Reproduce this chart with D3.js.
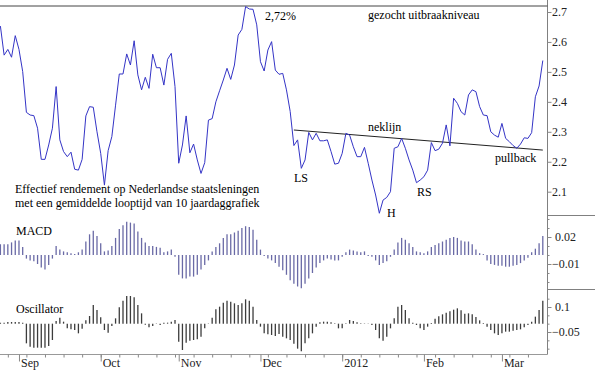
<!DOCTYPE html>
<html lang="nl">
<head>
  <meta charset="UTF-8">
  <title>Effectief rendement Nederlandse staatsleningen 10 jaar</title>
  <script src="https://d3js.org/d3.v7.min.js"></script>
  <style>
    body {
      margin: 0;
      background: #fff;
    }
    svg text {
      font-family: "Liberation Serif", "Times New Roman", serif;
      font-size: 12px;
      fill: #000;
    }
    .axis text {
      fill: #222;
    }
    .axis line {
      stroke: #888;
    }
  </style>
</head>
<body>
  <svg id="chart" width="595" height="372"></svg>

  <script>
    // Data: daily trading days 25 Aug 2011 - 16 Mar 2012
    const firstDay = new Date(2011, 7, 25);
    const lastDay = new Date(2012, 2, 16);

    // 10y yield (%)
    const yieldValues = [
      2.653, 2.556, 2.575, 2.549, 2.621, 2.575, 2.501, 2.365, 2.356, 2.354,
      2.312, 2.208, 2.208, 2.256, 2.312, 2.451, 2.273, 2.234, 2.217, 2.232,
      2.175, 2.172, 2.208, 2.353, 2.384, 2.382, 2.300, 2.228, 2.122, 2.237,
      2.284, 2.389, 2.493, 2.493, 2.560, 2.523, 2.604, 2.490, 2.440, 2.482,
      2.445, 2.559, 2.514, 2.514, 2.456, 2.542, 2.562, 2.451, 2.195, 2.256,
      2.353, 2.230, 2.259, 2.206, 2.161, 2.197, 2.339, 2.344, 2.400, 2.437,
      2.473, 2.512, 2.475, 2.523, 2.623, 2.642, 2.718, 2.710, 2.709, 2.657,
      2.534, 2.503, 2.573, 2.601, 2.506, 2.492, 2.495, 2.440, 2.368, 2.254,
      2.273, 2.178, 2.206, 2.298, 2.273, 2.295, 2.270, 2.270, 2.273, 2.234,
      2.192, 2.195, 2.228, 2.295, 2.289, 2.250, 2.217, 2.217, 2.248, 2.195,
      2.139, 2.089, 2.028, 2.072, 2.081, 2.100, 2.245, 2.250, 2.278, 2.245,
      2.206, 2.172, 2.130, 2.139, 2.150, 2.172, 2.264, 2.237, 2.242, 2.262,
      2.323, 2.253, 2.412, 2.395, 2.367, 2.356, 2.423, 2.440, 2.434, 2.384,
      2.356, 2.354, 2.300, 2.289, 2.282, 2.328, 2.278, 2.267, 2.254, 2.245,
      2.259, 2.280, 2.278, 2.297, 2.417, 2.453, 2.538
    ];

    const macdValues = [
      0.012, 0.012, 0.012, 0.014, 0.016, 0.016, 0.009,
      -0.004, -0.006, -0.007, -0.010, -0.014, -0.016, -0.011, -0.004,
      0.010, 0.006, 0.004, 0.003, 0.002, 0.001, 0.003, 0.006,
      0.015, 0.023, 0.027, 0.021, 0.013, 0.004, 0.005, 0.010,
      0.019, 0.029, 0.033, 0.037, 0.036, 0.035, 0.026, 0.019,
      0.014, 0.010, 0.010, 0.009, 0.008, 0.003, 0.004, 0.006,
      -0.002, -0.022, -0.026, -0.026, -0.024, -0.024, -0.022, -0.016, -0.011, -0.006,
      0.004, 0.009, 0.013, 0.019, 0.023, 0.023, 0.025, 0.027, 0.030, 0.032, 0.031, 0.028, 0.017, 0.006,
      -0.001, -0.004, -0.006, -0.009, -0.013, -0.017, -0.022, -0.028, -0.032, -0.035, -0.037,
      -0.032, -0.026, -0.020, -0.014, -0.009, -0.006, -0.004, -0.005, -0.006, -0.006, -0.002,
      0.003, 0.006, 0.005, 0.004, 0.003, 0.004,
      -0.001, -0.002, -0.006, -0.011, -0.009, -0.007, -0.002,
      0.006, 0.014, 0.019, 0.017, 0.013, 0.009, 0.004, 0.003, 0.002, 0.004,
      0.009, 0.011, 0.013, 0.015, 0.017, 0.019, 0.020, 0.019, 0.016, 0.015,
      0.015, 0.012, 0.006, 0.002, 0.001,
      -0.006, -0.010, -0.011, -0.012, -0.012, -0.013, -0.013, -0.012, -0.011, -0.009, -0.006, -0.003,
      0.003, 0.007, 0.013, 0.021
    ];

    const oscValues = [
      0.006, 0.006, 0.010, 0.010, 0.010, 0.010, 0.006,
      -0.118, -0.138, -0.144, -0.144, -0.144, -0.144, -0.134, -0.098,
      0.016, 0.036, 0.012, -0.028, -0.034, -0.038, -0.058, -0.030,
      0.020, 0.046, 0.112, 0.082, 0.038, -0.038, -0.054, -0.014,
      0.032, 0.098, 0.138, 0.166, 0.166, 0.158, 0.112, 0.062,
      -0.006, -0.022, -0.014, 0.002, -0.008, 0.006, 0.006, 0.012, 0.022,
      -0.108, -0.158, -0.114, -0.102, -0.098, -0.094, -0.078, -0.028, 0.002,
      0.036, 0.086, 0.102, 0.126, 0.138, 0.132, 0.122, 0.112, 0.122, 0.146, 0.138, 0.102,
      0.022, -0.018,
      -0.058, -0.064, -0.068, -0.074, -0.062, -0.078, -0.088, -0.098, -0.120, -0.150, -0.165, -0.118, -0.088, -0.058, -0.018,
      0.008, 0.012, 0.012, 0.008, 0.002, -0.028, -0.028, 0.002, 0.022, 0.016,
      0.008, 0.002, -0.002, -0.002, -0.008, -0.038, -0.088, -0.102, -0.078, -0.028,
      0.032, 0.102, 0.112, 0.082, 0.032, 0.006, -0.008, -0.028, -0.038, -0.018,
      0.004, 0.030, 0.044, 0.056, 0.066, 0.074, 0.084, 0.092, 0.080, 0.060, 0.062, 0.056, 0.040, 0.020, 0.004,
      -0.018, -0.038, -0.058, -0.068, -0.058, -0.048, -0.048, -0.042, -0.038, -0.034, -0.022, -0.008,
      0.012, 0.042, 0.082, 0.138
    ];

    const priceTicks = [2.1, 2.2, 2.3, 2.4, 2.5, 2.6, 2.7];
    const macdTicks = [0.02, -0.01];
    const macdMinorTicks = [-0.03, -0.02, -0.01, 0, 0.01, 0.02, 0.03, 0.04];
    const oscTicks = [0.1, -0.05];
    const oscMinorTicks = [-0.15, -0.1, -0.05, 0, 0.05, 0.1, 0.15];
    const monthNames = ["Jan", "Feb", "Mar", "Apr", "May", "Jun", "Jul", "Aug", "Sep", "Oct", "Nov", "Dec"];

    const breakoutLevel = 2.72;
    const necklineIdx = [79, 146];
    const necklineVal = [2.306, 2.239];

    // trading days (weekdays)
    const days = d3.timeDay.range(firstDay, d3.timeDay.offset(lastDay, 1))
      .filter(d => d.getDay() !== 0 && d.getDay() !== 6);

    const axisX = 547.5;
    const svg = d3.select("#chart");

    // scales
    const x = d3.scaleLinear().domain([0, days.length - 1]).range([0.4, 542.8]);
    const yPrice = d3.scaleLinear().domain([2.1, 2.7]).range([191.7, 12]);
    const yMacd = d3.scaleLinear().domain([-0.01, 0.02]).range([264, 237]);
    const yOsc = d3.scaleLinear().domain([-0.05, 0.1]).range([332, 307]);

    // frame lines
    svg.append("line")
      .attr("x1", axisX).attr("x2", axisX).attr("y1", 0).attr("y2", 354.5)
      .attr("stroke", "#808080");
    [215.5, 289.5].forEach(yy => {
      svg.append("line")
        .attr("x1", axisX).attr("x2", 595).attr("y1", yy).attr("y2", yy)
        .attr("stroke", "#808080");
    });
    svg.append("line")
      .attr("x1", 0).attr("x2", axisX).attr("y1", 354.5).attr("y2", 354.5)
      .attr("stroke", "#999");

    // breakout level + neckline
    svg.append("line")
      .attr("x1", 0).attr("x2", axisX)
      .attr("y1", yPrice(breakoutLevel)).attr("y2", yPrice(breakoutLevel))
      .attr("stroke", "#444").attr("stroke-width", 1);

    svg.append("line")
      .attr("x1", x(necklineIdx[0])).attr("x2", x(necklineIdx[1]))
      .attr("y1", yPrice(necklineVal[0])).attr("y2", yPrice(necklineVal[1]))
      .attr("stroke", "#222").attr("stroke-width", 1);

    // yield line
    svg.append("path")
      .datum(yieldValues)
      .attr("fill", "none")
      .attr("stroke", "#3434c6")
      .attr("stroke-width", 1)
      .attr("stroke-linejoin", "round")
      .attr("d", d3.line().x((d, i) => x(i)).y(d => yPrice(d)));

    // MACD bars
    svg.append("g").selectAll("line")
      .data(macdValues)
      .join("line")
      .attr("x1", (d, i) => x(i)).attr("x2", (d, i) => x(i))
      .attr("y1", yMacd(0)).attr("y2", d => yMacd(d))
      .attr("stroke", "#6a6aa6").attr("stroke-width", 1.3);

    // Oscillator bars
    svg.append("g").selectAll("line")
      .data(oscValues)
      .join("line")
      .attr("x1", (d, i) => x(i)).attr("x2", (d, i) => x(i))
      .attr("y1", yOsc(0)).attr("y2", d => yOsc(d))
      .attr("stroke", "#3c3c3c").attr("stroke-width", 1.3);

    // right axes
    function rightAxis(scale, ticks, minor, fmt) {
      if (minor) {
        svg.append("g").attr("class", "axis")
          .attr("transform", `translate(${axisX},0)`)
          .call(d3.axisRight(scale).tickValues(minor).tickSize(2).tickFormat(""))
          .call(g => g.select(".domain").remove());
      }
      const g = svg.append("g").attr("class", "axis")
        .attr("transform", `translate(${axisX},0)`)
        .call(d3.axisRight(scale).tickValues(ticks).tickSize(4).tickPadding(1).tickFormat(fmt))
        .call(g => g.select(".domain").remove());
      g.selectAll("text").attr("x", d => d < 0 ? 4.5 : 7.5);
      return g;
    }
    const pAxis = rightAxis(yPrice, priceTicks, null, d3.format(".1f"));
    pAxis.selectAll("text").attr("x", 4.5);
    rightAxis(yMacd, macdTicks, macdMinorTicks, d3.format(".2f"));
    rightAxis(yOsc, oscTicks, oscMinorTicks, d => d === 0.1 ? "0.1" : d3.format(".2f")(d));

    // bottom axis: weekly and monthly ticks
    const weekIdx = days.map((d, i) => i).filter(i => days[i].getDay() === 1);
    const monthIdx = days.map((d, i) => i)
      .filter(i => i > 0 && days[i].getMonth() !== days[i - 1].getMonth());

    svg.append("g").attr("class", "axis")
      .attr("transform", "translate(0,354.5)")
      .call(d3.axisBottom(x).tickValues(weekIdx).tickSize(3).tickFormat(""))
      .call(g => g.select(".domain").remove());

    const mAxis = svg.append("g").attr("class", "axis")
      .attr("transform", "translate(0,354.5)")
      .call(d3.axisBottom(x).tickValues(monthIdx).tickSize(7)
        .tickFormat(i => days[i].getMonth() === 0 ? String(days[i].getFullYear()) : monthNames[days[i].getMonth()]))
      .call(g => g.select(".domain").remove());
    mAxis.selectAll("text")
      .attr("text-anchor", "start")
      .attr("x", 1.5)
      .attr("y", 12.5)
      .attr("dy", 0);

    // annotations
    const notes = [
      { t: "2,72%", x: 265, y: 20 },
      { t: "gezocht uitbraakniveau", x: 368, y: 19 },
      { t: "neklijn", x: 368, y: 131 },
      { t: "LS", x: 294, y: 182 },
      { t: "H", x: 387, y: 216.5 },
      { t: "RS", x: 417, y: 196 },
      { t: "pullback", x: 495, y: 162 },
      { t: "Effectief rendement op Nederlandse staatsleningen", x: 15, y: 192.5 },
      { t: "met een gemiddelde looptijd van 10 jaardaggrafiek", x: 15, y: 206.5 },
      { t: "MACD", x: 16, y: 235 },
      { t: "Oscillator", x: 16, y: 312.5 }
    ];
    svg.append("g").selectAll("text")
      .data(notes)
      .join("text")
      .attr("x", d => d.x)
      .attr("y", d => d.y)
      .text(d => d.t);
  </script>
</body>
</html>
